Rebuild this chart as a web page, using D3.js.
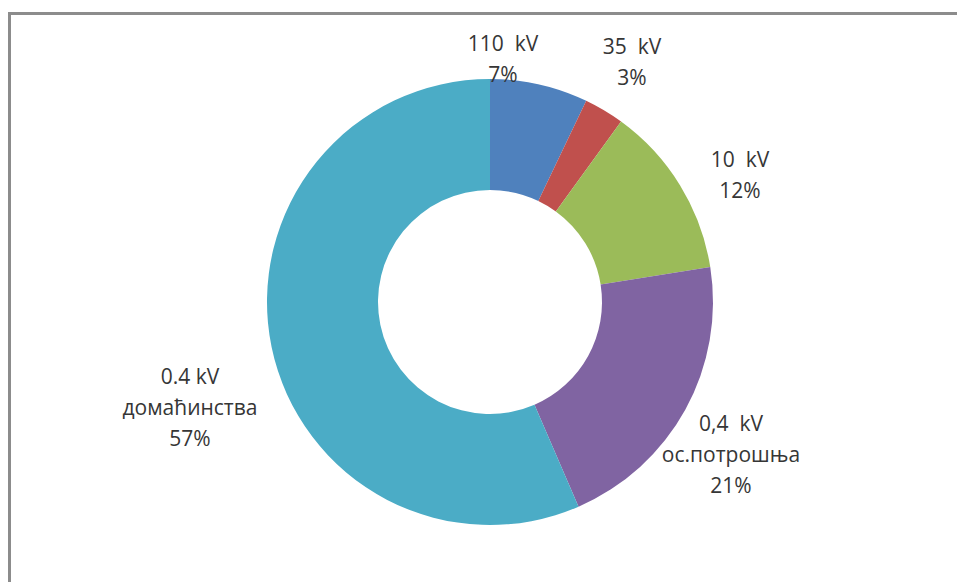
<!DOCTYPE html>
<html>
<head>
<meta charset="utf-8">
<script src="https://cdn.jsdelivr.net/npm/d3@7"></script>
<style>
  body { margin: 0; background: #fff; }
  #chart { width: 957px; height: 582px; }
  text { font-family: "Open Sans", "Liberation Sans", Arial, sans-serif; fill: #363636; white-space: pre; }
</style>
</head>
<body>
<div id="chart"></div>
<script>
// Data
const categories = ["110 kV", "35 kV", "10 kV", "0,4 kV ос.потрошња", "0.4 kV домаћинства"];
const labelLines = [["110  kV"], ["35  kV"], ["10  kV"], ["0,4  kV", "ос.потрошња"], ["0.4 kV", "домаћинства"]];
const values = [7.1, 2.9, 12.5, 21.0, 56.5];
const percentLabels = ["7%", "3%", "12%", "21%", "57%"];
const colors = ["#4F81BD", "#C0504D", "#9BBB59", "#8064A2", "#4BACC6"];

const width = 957, height = 582;
const cx = 490, cy = 302;
const outerR = 223, innerR = 112;

const svg = d3.select("#chart").append("svg")
  .attr("width", width).attr("height", height);

// frame
svg.append("rect")
  .attr("x", 9.5).attr("y", 13.5)
  .attr("width", width + 20).attr("height", height + 20)
  .attr("fill", "none")
  .attr("stroke", "#8c8c8c")
  .attr("stroke-width", 3);

const color = d3.scaleOrdinal().domain(categories).range(colors);

const pie = d3.pie().sort(null).value((d) => d.value);
const arc = d3.arc().innerRadius(innerR).outerRadius(outerR);

const data = categories.map((c, i) => ({
  name: c, value: values[i], lines: labelLines[i], pct: percentLabels[i]
}));

const g = svg.append("g").attr("transform", `translate(${cx},${cy})`);

g.selectAll("path")
  .data(pie(data))
  .join("path")
  .attr("d", arc)
  .attr("fill", (d) => color(d.data.name));

// label anchor positions (center of the text block), relative to donut center
const labelPos = [
  [13, -243], [142, -240], [250, -127], [241, 153], [-300, 106]
];
const lineH = 31;

g.selectAll("text.lbl")
  .data(pie(data))
  .join("text")
  .attr("class", "lbl")
  .attr("text-anchor", "middle")
  .attr("font-size", 21)
  .each(function (d, i) {
    const lines = d.data.lines.concat([d.data.pct]);
    const [lx, ly] = labelPos[i];
    const y0 = ly - ((lines.length - 1) * lineH) / 2;
    d3.select(this).selectAll("tspan")
      .data(lines)
      .join("tspan")
      .attr("x", lx)
      .attr("y", (t, j) => y0 + j * lineH)
      .attr("dy", "0.35em")
      .text((t) => t);
  });
</script>
</body>
</html>
